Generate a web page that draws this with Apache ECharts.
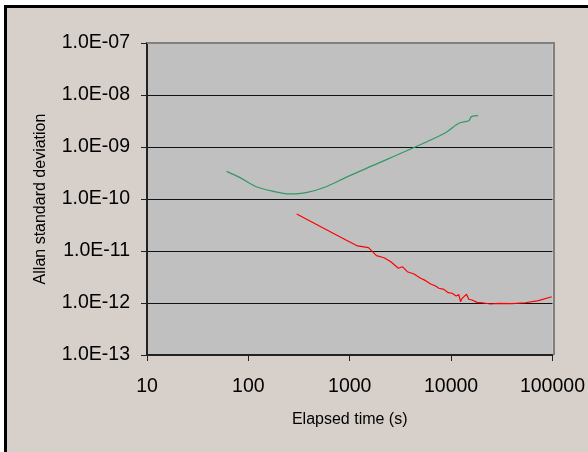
<!DOCTYPE html>
<html>
<head>
<meta charset="utf-8">
<script src="https://cdn.jsdelivr.net/npm/echarts@6/dist/echarts.min.js"></script>
<style>
    html, body { margin: 0; padding: 0; background: #fff; }
    #chart { width: 588px; height: 452px; }
</style>
</head>
<body>
<div id="chart"></div>
<script>
// green trace: averaging time (s) and Allan deviation
const greenTime = [61, 82, 120, 174, 254, 371, 584, 918, 1675, 4476, 8820, 11920, 14930, 15880, 18450];
const greenSigma = [3.41e-10, 2.61e-10, 1.72e-10, 1.41e-10, 1.25e-10, 1.32e-10, 1.72e-10, 2.61e-10,
    4.37e-10, 1.01e-9, 1.88e-9, 2.86e-9, 3.2e-9, 3.83e-9, 4.0e-9];

// red trace
const redTime = [300, 541, 918, 1195, 1531, 1834, 2183, 2541, 3020, 3304, 3700, 4303, 5012, 5610,
    6283, 7029, 7580, 8490, 9360, 10240, 11210, 11920, 12380, 12840, 14190, 14940, 16100, 18030,
    20200, 24410, 29450, 39810, 53950, 72800, 98400];
const redSigma = [5.15e-11, 2.81e-11, 1.63e-11, 1.25e-11, 1.16e-11, 8.12e-12, 7.43e-12, 6.22e-12,
    4.65e-12, 4.99e-12, 4.0e-12, 3.61e-12, 2.99e-12, 2.69e-12, 2.32e-12, 2.12e-12, 1.92e-12,
    1.83e-12, 1.58e-12, 1.54e-12, 1.36e-12, 1.45e-12, 1.06e-12, 1.23e-12, 1.47e-12, 1.18e-12,
    1.14e-12, 1.03e-12, 1.01e-12, 9.57e-13, 9.86e-13, 9.7e-13, 1.01e-12, 1.11e-12, 1.32e-12];

const xTicks = [10, 100, 1000, 10000, 100000];

const font = 'Liberation Sans, Arial, sans-serif';
const zip = (a, b) => a.map((v, i) => [v, b[i]]);

// plot area box
const L = 147, T = 43, W = 407, H = 312;

let chart = echarts.init(document.getElementById('chart'));
chart.setOption({
    backgroundColor: '#d7cfc9',
    animation: false,
    textStyle: { fontFamily: font, color: '#000' },
    grid: {
        left: L, top: T, width: W, height: H,
        show: true,
        backgroundColor: '#c0c0c0',
        borderWidth: 0
    },
    graphic: [
        { type: 'rect', shape: { x: 0, y: 0, width: 4, height: 452 }, style: { fill: '#fff' } },
        { type: 'rect', shape: { x: 0, y: 0, width: 588, height: 5 }, style: { fill: '#fff' } },
        { type: 'rect', shape: { x: 4, y: 5, width: 3, height: 447 }, style: { fill: '#000' } },
        { type: 'rect', shape: { x: 4, y: 5, width: 584, height: 3 }, style: { fill: '#000' } },
        {
            type: 'polyline', z: 100,
            shape: { points: [[L, T], [L + W, T], [L + W, T + H]] },
            style: { stroke: '#808080', lineWidth: 2, fill: null }
        }
    ],
    xAxis: {
        type: 'log',
        logBase: 10,
        min: xTicks[0],
        max: xTicks[xTicks.length - 1],
        interval: 1,
        name: 'Elapsed time (s)',
        nameLocation: 'middle',
        nameGap: 57,
        nameTextStyle: { fontSize: 16, fontFamily: font, color: '#000', verticalAlign: 'top' },
        axisLine: { lineStyle: { color: '#222', width: 2 } },
        axisTick: { show: true, inside: false, length: 6, lineStyle: { color: '#222', width: 1 } },
        axisLabel: {
            fontSize: 19.5, color: '#000', margin: 22,
            formatter: v => String(Math.round(v))
        },
        splitLine: { show: false },
        minorTick: { show: false }
    },
    yAxis: {
        type: 'log',
        logBase: 10,
        min: 1e-13,
        max: 1e-7,
        interval: 1,
        name: 'Allan standard deviation',
        nameLocation: 'middle',
        nameGap: 98,
        nameTextStyle: { fontSize: 16, fontFamily: font, color: '#000' },
        axisLine: { lineStyle: { color: '#222', width: 2 } },
        axisTick: { show: true, inside: false, length: 6, lineStyle: { color: '#222', width: 1 } },
        axisLabel: {
            fontSize: 19.5, color: '#000', margin: 17,
            formatter: v => {
                const e = Math.round(Math.log10(v));
                return '1.0E' + (e < 0 ? '-' : '+') + String(Math.abs(e)).padStart(2, '0');
            }
        },
        splitLine: { show: true, lineStyle: { color: '#111', width: 1 } }
    },
    series: [
        {
            type: 'line',
            data: zip(greenTime, greenSigma),
            showSymbol: false,
            smooth: 0.3,
            lineStyle: { color: '#339966', width: 1.3 }
        },
        {
            type: 'line',
            data: zip(redTime, redSigma),
            showSymbol: false,
            lineStyle: { color: '#ff0000', width: 1.2 }
        }
    ]
});
</script>
</body>
</html>
